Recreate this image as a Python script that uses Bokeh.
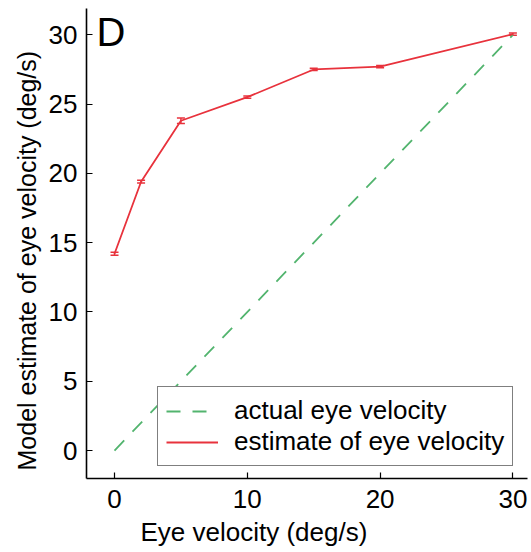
from bokeh.plotting import figure
from bokeh.models import Range1d, Label, Legend, LegendItem, Whisker, ColumnDataSource, TeeHead, FixedTicker, Title
from bokeh.embed import file_html
from bokeh.resources import INLINE

eye_velocity = [0, 2, 5, 10, 15, 20, 30]
model_estimate = [14.2, 19.4, 23.8, 25.5, 27.5, 27.7, 30.05]
estimate_err = [0.1, 0.1, 0.2, 0.08, 0.08, 0.08, 0.08]
actual_x = [0, 30]
actual_y = [0, 30]
x_ticks = [0, 10, 20, 30]
y_ticks = [0, 5, 10, 15, 20, 25, 30]
x_title = "Eye velocity (deg/s)"
y_title = "Model estimate of eye velocity (deg/s)"

FONT = "Liberation Sans"
RED = "#e8323c"
GREEN = "#52b46e"

p = figure(width=531, height=552, output_backend="svg", toolbar_location=None,
           x_range=Range1d(-2.11, 31.1), y_range=Range1d(-2.02, 31.9),
           min_border_left=86, min_border_right=4, min_border_top=8, min_border_bottom=74)
p.outline_line_color = None
p.grid.visible = False
p.background_fill_color = "white"

gl = p.line(actual_x, actual_y, line_color=GREEN, line_width=1.8, line_dash="14 12")
rl = p.line(eye_velocity, model_estimate, line_color=RED, line_width=1.8)

src = ColumnDataSource(dict(x=eye_velocity,
                            upper=[m + e for m, e in zip(model_estimate, estimate_err)],
                            lower=[m - e for m, e in zip(model_estimate, estimate_err)]))
w = Whisker(source=src, base="x", upper="upper", lower="lower", line_color=RED, line_width=1.5,
            upper_head=TeeHead(size=8, line_color=RED, line_width=1.5),
            lower_head=TeeHead(size=8, line_color=RED, line_width=1.5))
p.add_layout(w)

for ax in (p.xaxis[0], p.yaxis[0]):
    ax.major_tick_in = 6
    ax.major_tick_out = 0
    ax.minor_tick_in = 0
    ax.minor_tick_out = 0
    ax.axis_line_color = "black"
    ax.axis_line_width = 1.6
    ax.major_tick_line_width = 1.2
    ax.major_label_text_font = FONT
    ax.major_label_text_font_size = "26px"
    ax.major_label_text_color = "black"

p.xaxis[0].ticker = FixedTicker(ticks=x_ticks)
p.yaxis[0].ticker = FixedTicker(ticks=y_ticks)
p.xaxis[0].major_label_standoff = 11
p.yaxis[0].major_label_standoff = 9

# axis titles as side titles (so they can be shifted off the frame centre)
p.add_layout(Title(text=x_title, align="left", offset=54, standoff=9,
                   text_font=FONT, text_font_size="26px", text_font_style="normal",
                   text_color="black"), "below")
p.add_layout(Title(text=y_title, align="left", offset=8, standoff=9,
                   text_font=FONT, text_font_size="25px", text_font_style="normal",
                   text_color="black"), "left")

legend = Legend(items=[LegendItem(label="actual eye velocity", renderers=[gl]),
                       LegendItem(label="estimate of eye velocity", renderers=[rl])],
                location=(71, 12), label_text_font=FONT, label_text_font_size="26px",
                label_text_color="black",
                glyph_width=52, glyph_height=26, label_height=26, spacing=0, padding=8,
                margin=0, border_line_color="black", border_line_width=1.2,
                background_fill_alpha=1.0, label_standoff=16)
p.add_layout(legend, "center")

p.add_layout(Label(x=-1.35, y=31.8, text="D",
                   text_font=FONT, text_font_size="40px", text_font_style="normal",
                   text_color="black", text_baseline="top"))

open("out.html", "w").write(file_html(p, INLINE))
